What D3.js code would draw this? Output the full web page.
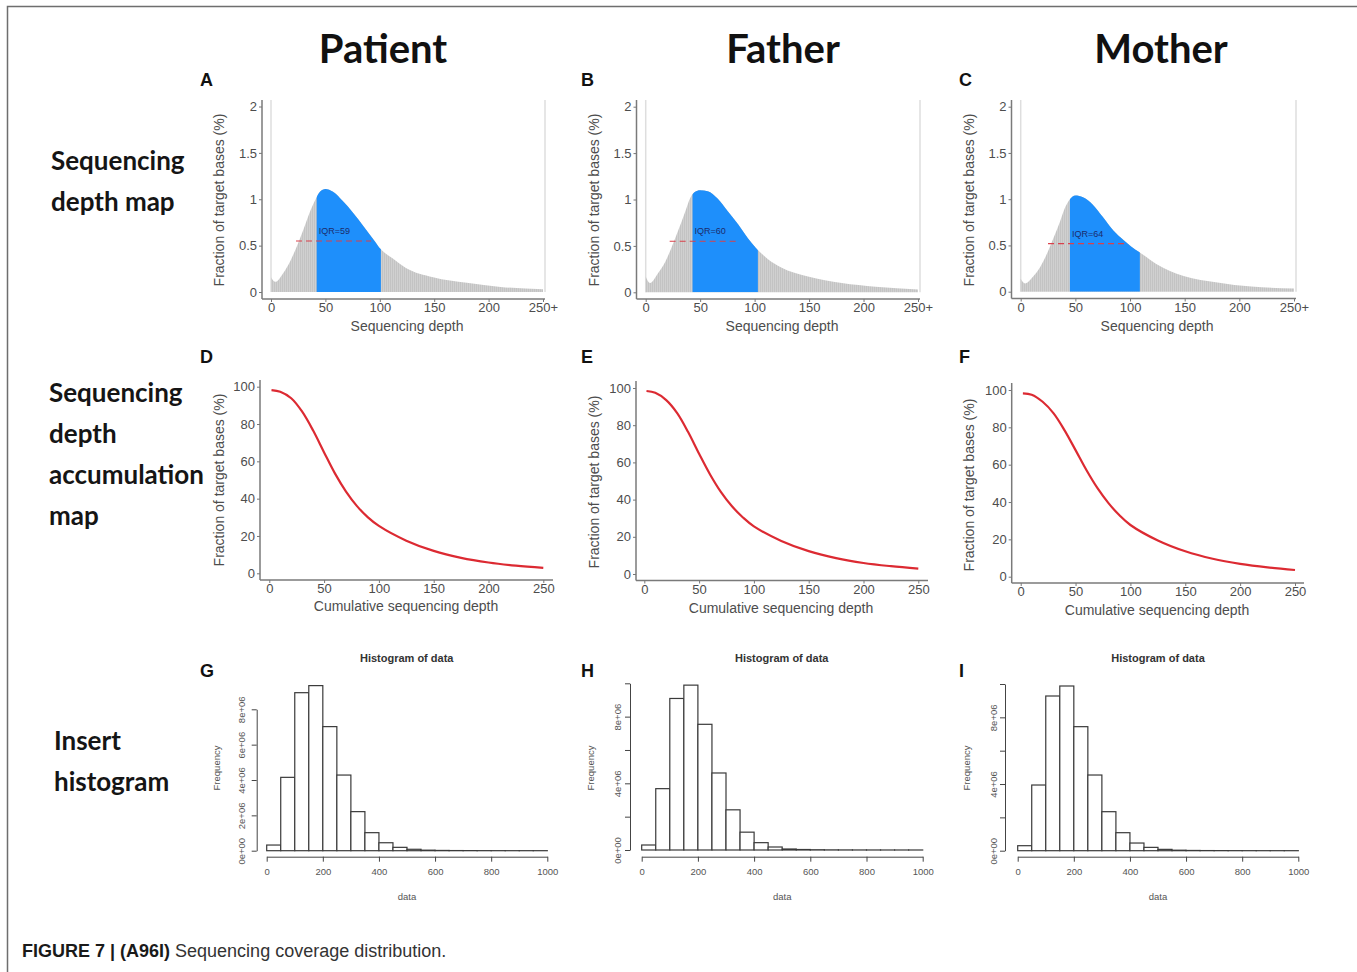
<!DOCTYPE html>
<html>
<head>
<meta charset="utf-8">
<script src="https://d3js.org/d3.v7.min.js"></script>
<style>
body { margin: 0; background: #fff; }
svg { display: block; }
text { font-family: "Liberation Sans", Arial, sans-serif; }
.head { font-family: Lato, "Open Sans", sans-serif; font-weight: 700; font-size: 40px; fill: #111; }
.rowlab { font-family: Lato, "Open Sans", sans-serif; font-weight: 700; font-size: 26px; fill: #151515; }
.letter { font-weight: 700; font-size: 18px; fill: #111; }
.ax text { font-size: 13px; fill: #4d4d4d; }
.ax line { stroke: #777; }
.ax path { display: none; }
.title { font-size: 14px; fill: #4d4d4d; }
.hax text { font-size: 9.5px; fill: #555; }
.hax line, .hax path { stroke: #444; }
.htitle { font-size: 11px; font-weight: 700; fill: #333; }
.hlab { font-size: 9.5px; fill: #555; }
</style>
</head>
<body>
<svg width="1357" height="972"></svg>
<script>

// ---- data ----
var columns = ["Patient", "Father", "Mother"];
var rowLabels = [["Sequencing", "depth map"], ["Sequencing", "depth", "accumulation", "map"], ["Insert", "histogram"]];
var panelLetters = [["A", "B", "C"], ["D", "E", "F"], ["G", "H", "I"]];

// depth map (fraction of target bases, %)
var depthX = [0, 4, 11, 18, 24, 30, 36, 41, 45, 50, 57, 66, 75, 85, 94, 101, 112, 124, 149, 180, 211, 250];
var depthA = [0.16, 0.11, 0.2, 0.34, 0.5, 0.68, 0.87, 1.0, 1.08, 1.11, 1.08, 0.98, 0.86, 0.71, 0.57, 0.46, 0.36, 0.26, 0.16, 0.1, 0.055, 0.03];
var depthB = [0.17, 0.1, 0.2, 0.33, 0.49, 0.67, 0.86, 1.02, 1.08, 1.1, 1.09, 1.01, 0.88, 0.73, 0.58, 0.48, 0.36, 0.27, 0.17, 0.1, 0.06, 0.03];
var depthC = [0.14, 0.09, 0.16, 0.27, 0.41, 0.58, 0.76, 0.92, 1.0, 1.04, 1.02, 0.94, 0.81, 0.66, 0.56, 0.49, 0.4, 0.3, 0.17, 0.1, 0.055, 0.035];
var iqrRanges = [[42, 101], [43, 103], [45, 109]];
var iqrLabels = ["IQR=59", "IQR=60", "IQR=64"];
var halfLines = [[23, 92, 0.55], [22, 86, 0.55], [25, 97, 0.52]];
var depthTicks = [0, 50, 100, 150, 200, 250];
var depthTickLabels = ["0", "50", "100", "150", "200", "250+"];
var fracTicks = [0, 0.5, 1, 1.5, 2];

// cumulative depth (%)
var cumX = [2, 10, 20, 30, 40, 50, 60, 70, 80, 90, 100, 125, 150, 175, 200, 225, 250];
var cumD = [98.2, 97.3, 93.8, 86.6, 76.5, 64.8, 53.4, 43.8, 36.0, 30.0, 25.4, 17.5, 12.0, 8.3, 5.8, 4.1, 2.9];
var cumE = [98.4, 97.4, 93.5, 86.5, 76.3, 64.6, 53.5, 44.0, 36.4, 30.4, 25.6, 17.8, 12.3, 8.5, 5.9, 4.2, 2.9];
var cumF = [98.2, 97.5, 93.7, 87.5, 78.4, 67.8, 57.0, 47.4, 39.4, 32.9, 27.7, 19.4, 13.6, 9.6, 6.9, 5.0, 3.6];
var cumTicks = [0, 50, 100, 150, 200, 250];
var pctTicks = [0, 20, 40, 60, 80, 100];

// histograms (counts in millions, bins of 50)
var binEdges = [0, 50, 100, 150, 200, 250, 300, 350, 400, 450, 500, 550, 600, 650, 700, 750, 800, 850, 900, 950, 1000];
var histG = [0.32, 4.15, 8.94, 9.34, 7.02, 4.28, 2.21, 1.02, 0.45, 0.19, 0.08, 0.03, 0.015, 0.008, 0.005, 0.003, 0.002, 0.001, 0.001, 0.001];
var histH = [0.30, 3.68, 9.09, 9.89, 7.54, 4.62, 2.41, 1.07, 0.44, 0.18, 0.06, 0.03, 0.015, 0.008, 0.005, 0.003, 0.002, 0.001, 0.001, 0.001];
var histI = [0.30, 3.94, 9.28, 9.88, 7.44, 4.54, 2.34, 1.08, 0.46, 0.20, 0.08, 0.03, 0.015, 0.008, 0.005, 0.003, 0.002, 0.001, 0.001, 0.001];
var histXTicks = [0, 200, 400, 600, 800, 1000];
var histYTicks = [[0, 2, 4, 6, 8], [0, 2, 4, 6, 8, 10], [0, 2, 4, 6, 8, 10]];
var histYLabels = [["0e+00", "2e+06", "4e+06", "6e+06", "8e+06"],
                   ["0e+00", "", "4e+06", "", "8e+06", ""],
                   ["0e+00", "", "4e+06", "", "8e+06", ""]];

// ---- layout ----
var headX = [383, 783, 1161];
var letterX = [200, 581, 959];
var letterY = [86, 363, 677];
var rowPos = [{x: 51, y: 170}, {x: 49, y: 402}, {x: 54, y: 750}];

var depthLayout = [
  {x0: 271, x1: 543, y0: 292, y2: 106.5, ax: 262, ay: 299, top: 100, right: 545, ylx: 220, yly: 200, xlx: 407},
  {x0: 645.7, x1: 918, y0: 292.3, y2: 106.7, ax: 636.5, ay: 299, top: 100, right: 920, ylx: 595, yly: 200, xlx: 782},
  {x0: 1020.7, x1: 1294, y0: 291.7, y2: 106.7, ax: 1011.5, ay: 298.5, top: 100, right: 1296, ylx: 970, yly: 200, xlx: 1157}
];
var cumLayout = [
  {x0: 269.3, x1: 543.3, y0: 573.3, y1: 386.7, ax: 260, ay: 580, top: 380, right: 553, ylx: 220, yly: 480, xlx: 406, xly: 611},
  {x0: 644.3, x1: 918.3, y0: 574, y1: 388, ax: 636, ay: 580.5, top: 381, right: 928, ylx: 595, yly: 482, xlx: 781, xly: 613},
  {x0: 1020.7, x1: 1295, y0: 576.7, y1: 390, ax: 1011.7, ay: 583, top: 383, right: 1304, ylx: 970, yly: 485, xlx: 1157, xly: 615}
];
var histLayout = [
  {x0: 266.7, x1: 547.3, y0: 850.7, yTop: 709.3, ymax: 8, ax: 256.7, ay: 856.7, labOff: 12, tx: 406.7, fx: 216.7},
  {x0: 641.7, x1: 922.7, y0: 850, yTop: 683.3, ymax: 10, ax: 630, ay: 856.7, labOff: 9, tx: 781.7, fx: 590.7},
  {x0: 1017.7, x1: 1298.3, y0: 850.7, yTop: 684, ymax: 10, ax: 1005, ay: 856.7, labOff: 8, tx: 1158, fx: 966.7}
];

var svg = d3.select("svg");
var defs = svg.append("defs");

// thin vertical bars look of the depth histogram
var pat = defs.append("pattern").attr("id", "bars")
    .attr("patternUnits", "userSpaceOnUse").attr("width", 2).attr("height", 20);
pat.append("rect").attr("width", 2).attr("height", 20).attr("fill", "#d4d4d4");
pat.append("rect").attr("width", 1.2).attr("height", 20).attr("fill", "#c3c3c3");

// frame
svg.append("rect").attr("x", 7.5).attr("y", 6.5).attr("width", 1400).attr("height", 1000)
    .attr("fill", "none").attr("stroke", "#6e6e6e").attr("stroke-width", 1.5);

columns.forEach(function(c, i) {
  svg.append("text").attr("class", "head").attr("x", headX[i]).attr("y", 63)
      .attr("text-anchor", "middle").text(c);
});

rowLabels.forEach(function(lines, r) {
  lines.forEach(function(t, k) {
    svg.append("text").attr("class", "rowlab")
        .attr("x", rowPos[r].x).attr("y", rowPos[r].y + k * 41).text(t);
  });
});

panelLetters.forEach(function(row, r) {
  row.forEach(function(l, c) {
    svg.append("text").attr("class", "letter").attr("x", letterX[c]).attr("y", letterY[r]).text(l);
  });
});

function yTitle(x, y, txt) {
  svg.append("text").attr("class", "title")
      .attr("transform", "translate(" + (x + 4) + "," + y + ") rotate(-90)")
      .attr("text-anchor", "middle").text(txt);
}

// ---- row 1: depth maps ----
function depthPanel(i, values) {
  var L = depthLayout[i];
  var x = d3.scaleLinear().domain([0, 250]).range([L.x0, L.x1]);
  var y = d3.scaleLinear().domain([0, 2]).range([L.y0, L.y2]);
  var pts = depthX.map(function(d, j) { return [d, values[j]]; });

  var area = d3.area()
      .x(function(d) { return x(d[0]); })
      .y0(y(0))
      .y1(function(d) { return y(d[1]); })
      .curve(d3.curveMonotoneX);

  // light panel edges
  svg.append("line").attr("x1", x(0)).attr("x2", x(0)).attr("y1", L.top).attr("y2", y(0))
      .attr("stroke", "#dedede").attr("stroke-width", 1.5);
  svg.append("line").attr("x1", L.right).attr("x2", L.right).attr("y1", L.top).attr("y2", y(0))
      .attr("stroke", "#dedede").attr("stroke-width", 1.5);

  svg.append("path").attr("d", area(pts)).attr("fill", "url(#bars)");

  var r = iqrRanges[i];
  defs.append("clipPath").attr("id", "iqr" + i).append("rect")
      .attr("x", x(r[0])).attr("width", x(r[1]) - x(r[0]))
      .attr("y", L.top - 20).attr("height", y(0) - L.top + 20);
  svg.append("path").attr("d", area(pts)).attr("fill", "#1e8ffb")
      .attr("clip-path", "url(#iqr" + i + ")");

  var h = halfLines[i];
  svg.append("line").attr("x1", x(h[0])).attr("x2", x(h[1])).attr("y1", y(h[2])).attr("y2", y(h[2]))
      .attr("stroke", "#d9414a").attr("stroke-width", 1.2).attr("stroke-dasharray", "6,4");
  svg.append("text").attr("x", x(r[0]) + 2).attr("y", y(h[2]) - 7)
      .attr("font-size", "9px").attr("fill", "#1c2c6c").text(iqrLabels[i]);

  // axis lines
  svg.append("line").attr("x1", L.ax).attr("x2", L.ax).attr("y1", L.top).attr("y2", L.ay)
      .attr("stroke", "#7a7a7a").attr("stroke-width", 1.5);
  svg.append("line").attr("x1", L.ax).attr("x2", L.right).attr("y1", L.ay).attr("y2", L.ay)
      .attr("stroke", "#7a7a7a").attr("stroke-width", 1.5);

  svg.append("g").attr("class", "ax").attr("transform", "translate(0," + L.ay + ")")
      .call(d3.axisBottom(x).tickValues(depthTicks)
        .tickFormat(function(d, k) { return depthTickLabels[k]; })
        .tickSize(3).tickPadding(1).tickSizeOuter(0));
  svg.append("g").attr("class", "ax").attr("transform", "translate(" + L.ax + ",0)")
      .call(d3.axisLeft(y).tickValues(fracTicks).tickFormat(d3.format("")).tickSize(3).tickPadding(2).tickSizeOuter(0));

  yTitle(L.ylx, L.yly, "Fraction of target bases (%)");
  svg.append("text").attr("class", "title").attr("x", L.xlx).attr("y", 331)
      .attr("text-anchor", "middle").text("Sequencing depth");
}

depthPanel(0, depthA);
depthPanel(1, depthB);
depthPanel(2, depthC);

// ---- row 2: cumulative depth ----
function cumPanel(i, values) {
  var L = cumLayout[i];
  var x = d3.scaleLinear().domain([0, 250]).range([L.x0, L.x1]);
  var y = d3.scaleLinear().domain([0, 100]).range([L.y0, L.y1]);
  var pts = cumX.map(function(d, j) { return [d, values[j]]; });

  svg.append("line").attr("x1", L.ax).attr("x2", L.ax).attr("y1", L.top).attr("y2", L.ay)
      .attr("stroke", "#7a7a7a").attr("stroke-width", 1.5);
  svg.append("line").attr("x1", L.ax).attr("x2", L.right).attr("y1", L.ay).attr("y2", L.ay)
      .attr("stroke", "#7a7a7a").attr("stroke-width", 1.5);

  svg.append("path")
      .attr("d", d3.line().x(function(d) { return x(d[0]); }).y(function(d) { return y(d[1]); })
        .curve(d3.curveCatmullRom.alpha(0.5))(pts))
      .attr("fill", "none").attr("stroke", "#dc2a32").attr("stroke-width", 2.2);

  svg.append("g").attr("class", "ax").attr("transform", "translate(0," + L.ay + ")")
      .call(d3.axisBottom(x).tickValues(cumTicks).tickSize(3).tickPadding(1).tickSizeOuter(0));
  svg.append("g").attr("class", "ax").attr("transform", "translate(" + L.ax + ",0)")
      .call(d3.axisLeft(y).tickValues(pctTicks).tickSize(3).tickPadding(2).tickSizeOuter(0));

  yTitle(L.ylx, L.yly, "Fraction of target bases (%)");
  svg.append("text").attr("class", "title").attr("x", L.xlx).attr("y", L.xly)
      .attr("text-anchor", "middle").text("Cumulative sequencing depth");
}

cumPanel(0, cumD);
cumPanel(1, cumE);
cumPanel(2, cumF);

// ---- row 3: histograms ----
function histPanel(i, counts) {
  var L = histLayout[i];
  var x = d3.scaleLinear().domain([0, 1000]).range([L.x0, L.x1]);
  var y = d3.scaleLinear().domain([0, L.ymax]).range([L.y0, L.yTop]);

  svg.append("g").selectAll("rect").data(counts).join("rect")
      .attr("x", function(d, j) { return x(binEdges[j]); })
      .attr("width", function(d, j) { return x(binEdges[j + 1]) - x(binEdges[j]); })
      .attr("y", function(d) { return y(d); })
      .attr("height", function(d) { return y(0) - y(d); })
      .attr("fill", "#fff").attr("stroke", "#3a3a3a").attr("stroke-width", 1.2);

  svg.append("g").attr("class", "hax").attr("transform", "translate(0," + L.ay + ")")
      .call(d3.axisBottom(x).tickValues(histXTicks).tickFormat(d3.format("d"))
        .tickSize(5).tickPadding(7).tickSizeOuter(0));

  var ya = svg.append("g").attr("class", "hax").attr("transform", "translate(" + L.ax + ",0)")
      .call(d3.axisLeft(y).tickValues(histYTicks[i])
        .tickFormat(function(d, k) { return histYLabels[i][k]; })
        .tickSize(5).tickSizeOuter(0));
  ya.selectAll("text")
      .attr("x", null).attr("dy", null)
      .attr("text-anchor", "middle")
      .attr("transform", "translate(" + (-L.labOff) + ",0) rotate(-90)");

  svg.append("text").attr("class", "htitle").attr("x", L.tx).attr("y", 662)
      .attr("text-anchor", "middle").text("Histogram of data");
  svg.append("text").attr("class", "hlab")
      .attr("transform", "translate(" + (L.fx + 3) + ",768) rotate(-90)")
      .attr("text-anchor", "middle").text("Frequency");
  svg.append("text").attr("class", "hlab").attr("x", (L.x0 + L.x1) / 2).attr("y", 899.5)
      .attr("text-anchor", "middle").text("data");
}

histPanel(0, histG);
histPanel(1, histH);
histPanel(2, histI);

// caption
var cap = svg.append("text").attr("x", 22).attr("y", 957).attr("font-size", "18px");
cap.append("tspan").attr("font-weight", 700).attr("fill", "#1a1a1a").text("FIGURE 7 | (A96I)");
cap.append("tspan").attr("fill", "#333").text(" Sequencing coverage distribution.");

</script>
</body>
</html>
